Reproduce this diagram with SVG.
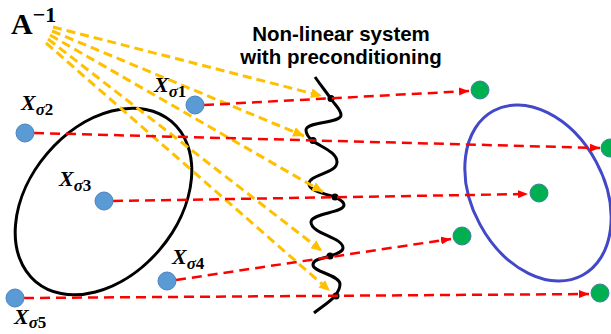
<svg xmlns="http://www.w3.org/2000/svg" width="611" height="334" viewBox="0 0 611 334">
<style>
.yl{stroke:#FFC000;stroke-width:3;stroke-dasharray:9 5;fill:none;marker-end:url(#ya)}
.rl{stroke:#FF0000;stroke-width:2.5;stroke-dasharray:10 6;fill:none;marker-end:url(#ra)}
.bd{fill:#5B9BD5;stroke:#4A84BE;stroke-width:1}
.gd{fill:#00B050;stroke:#3E7FA0;stroke-width:1}
.wd{fill:#000}
.lab{font-family:"Liberation Serif",serif;font-weight:bold;font-style:italic;font-size:22px;fill:#000}
.sub{font-size:17px}
.num{font-style:normal}
.ttl{font-family:"Liberation Sans",Arial,sans-serif;font-weight:bold;font-size:20.5px;fill:#000;text-anchor:middle}
</style>
<defs>
<marker id="ya" markerUnits="userSpaceOnUse" markerWidth="12" markerHeight="10" refX="11" refY="5" orient="auto"><path d="M0,0 L11,5 L0,10 z" fill="#FFC000"/></marker>
<marker id="ra" markerUnits="userSpaceOnUse" markerWidth="11" markerHeight="8" refX="10" refY="4" orient="auto"><path d="M0,0 L10,4 L0,8 z" fill="#FF0000"/></marker>
</defs>
<g id="title"><text class="ttl" x="341" y="41">Non-linear system</text><text class="ttl" x="341" y="64">with preconditioning</text></g>
<g id="ainv"><text x="11" y="34" font-family="Liberation Serif,serif" font-weight="bold" font-size="30">A<tspan font-size="22" dy="-12">−1</tspan></text></g>
<g id="source-ellipse"><ellipse cx="103.5" cy="201.5" rx="105" ry="74" transform="rotate(-49.7 103.5 201.5)" fill="none" stroke="#000" stroke-width="3"/></g>
<g id="target-ellipse"><ellipse cx="538" cy="193" rx="93.5" ry="66" transform="rotate(61.6 538 193)" fill="none" stroke="#4348C8" stroke-width="3"/></g>
<g id="system"><path d="M315,77 C322,87 327,93 331,99 C336,106 341,110 341,115 C341,124 306,121 306,130 C306,135 309,138 313,141 C321,147 337,152 337,162 C337,174 309,174 309,184 C309,191 326,194 335,197 C339,199 344,201 344,205 C344,213 311,213 311,222 C311,234 343,237 343,248 C343,252 336,254 330,256 C322,259 313,259 313,265 C313,272 340,275 340,284 C340,289 338,292 335,296 C330,302 320,308 314,313" fill="none" stroke="#000" stroke-width="3"/>
<circle class="wd" cx="331" cy="98.5" r="3.5"/><circle class="wd" cx="313" cy="140.5" r="3.5"/><circle class="wd" cx="335" cy="197" r="3.5"/><circle class="wd" cx="330" cy="256" r="3.5"/><circle class="wd" cx="336" cy="296" r="3.5"/></g>
<g id="connectors">
<line class="yl" x1="53" y1="27" x2="322" y2="96"/>
<line class="yl" x1="52" y1="31" x2="304" y2="136"/>
<line class="yl" x1="50" y1="35" x2="323" y2="192"/>
<line class="yl" x1="48" y1="39" x2="322" y2="251"/>
<line class="yl" x1="46" y1="43" x2="330" y2="291"/>
<line class="rl" x1="204" y1="105" x2="469" y2="91"/>
<line class="rl" x1="34" y1="133" x2="600" y2="148"/>
<line class="rl" x1="113" y1="201" x2="528" y2="194"/>
<line class="rl" x1="176" y1="280" x2="451" y2="239"/>
<line class="rl" x1="24" y1="298" x2="589" y2="294"/>
</g>
<g id="x1"><circle class="bd" cx="195" cy="105" r="9"/><text class="lab" x="154" y="92">X<tspan class="sub" dy="5">σ</tspan><tspan class="sub num">1</tspan></text></g>
<g id="x2"><circle class="bd" cx="25" cy="133" r="9"/><text class="lab" x="21" y="110">X<tspan class="sub" dy="5">σ</tspan><tspan class="sub num">2</tspan></text></g>
<g id="x3"><circle class="bd" cx="104" cy="201" r="9"/><text class="lab" x="59" y="186">X<tspan class="sub" dy="5">σ</tspan><tspan class="sub num">3</tspan></text></g>
<g id="x4"><circle class="bd" cx="167" cy="281" r="9"/><text class="lab" x="172" y="264">X<tspan class="sub" dy="5">σ</tspan><tspan class="sub num">4</tspan></text></g>
<g id="x5"><circle class="bd" cx="15" cy="298" r="9"/><text class="lab" x="14" y="324">X<tspan class="sub" dy="4">σ</tspan><tspan class="sub num">5</tspan></text></g>
<g id="y1"><circle class="gd" cx="480" cy="90" r="9"/></g>
<g id="y2"><circle class="gd" cx="610" cy="148" r="9"/></g>
<g id="y3"><circle class="gd" cx="539" cy="193" r="9"/></g>
<g id="y4"><circle class="gd" cx="462" cy="236" r="9"/></g>
<g id="y5"><circle class="gd" cx="600" cy="293" r="9"/></g>
</svg>
